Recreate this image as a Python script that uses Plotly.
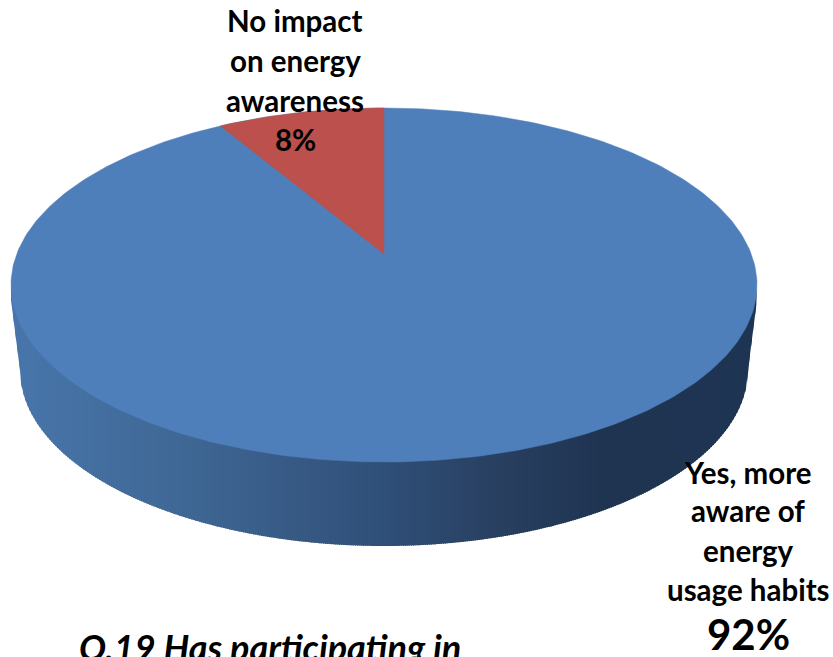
import numpy as np
import plotly.graph_objects as go

# Survey shares, in percent
categories = ["Yes, more aware of energy usage habits", "No impact on energy awareness"]
shares = [92, 8]
slice_colors = ["#4e7fba", "#bc504c"]

# Side wall shading, left to right along the disc
wall_stops = [0.0, 0.025, 0.12, 0.25, 0.374, 0.5, 0.655, 0.79, 1.0]
wall_colors = ["#4774a9", "#4774a9", "#436e9f", "#3e6693", "#375a85", "#2f4f78", "#283f60", "#1f3451", "#1d3452"]

label_lines_small = [("No impact", 20), ("on energy", 60), ("awareness", 100), ("8%", 139)]
label_lines_yes = [("Yes, more", 472), ("aware of", 510), ("energy", 550), ("usage habits", 589)]

# Disc geometry in page pixels
CX, CY, RX, RY = 384.0, 285.0, 373.0, 177.0
BASE_CY, BASE_RX, BASE_RY = 370.0, 364.0, 176.0
APEX_Y = 254.0
SKEW = 0.887
BAND = 2.0


def hex_rgb(c):
    return np.array([int(c[i:i + 2], 16) for i in (1, 3, 5)], dtype=float)


def wall_color(f):
    rgb = [np.interp(f, wall_stops, [hex_rgb(c)[k] for c in wall_colors]) for k in range(3)]
    return "rgb({:.0f},{:.0f},{:.0f})".format(*rgb)


def rim_point(theta):
    # Clockwise from the far edge of the disc, with the perspective skew applied
    t = np.arctan2(SKEW * np.sin(theta), np.cos(theta))
    return CX + RX * np.sin(t), CY - RY * np.cos(t)


def wall_top(x):
    return CY + RY * np.sqrt(np.clip(1 - ((x - CX) / RX) ** 2, 0, 1)) - 3


def wall_bottom(x):
    # Base ellipse, narrowing to a straight flank beyond its own width
    d = np.abs(x - CX)
    inside = BASE_CY + BASE_RY * np.sqrt(np.clip(1 - (d / BASE_RX) ** 2, 0, 1))
    flank = BASE_CY - (d - BASE_RX) / (RX - BASE_RX) * (BASE_CY - CY - 15)
    return np.where(d <= BASE_RX, inside, flank)


fig = go.Figure()

# Side wall: vertical bands painted left to right, each one covering the seam of the last
for left in np.arange(CX - RX, CX + RX, BAND):
    x = np.linspace(left, min(left + BAND + 1, CX + RX), 4)
    xs = np.concatenate([x, x[::-1], x[:1]])
    ys = np.concatenate([wall_top(x), wall_bottom(x)[::-1], wall_top(x)[:1]])
    col = wall_color((left - CX + RX) / (2 * RX))
    fig.add_trace(go.Scatter(x=xs, y=ys, mode="lines", fill="toself", fillcolor=col,
                             line=dict(width=0), hoverinfo="skip", showlegend=False))

# Top face, slices start at twelve o'clock and run anticlockwise from the small slice
small_end = 2 * np.pi * shares[1] / sum(shares)
full = np.linspace(0, 2 * np.pi, 361)
fig.add_trace(go.Scatter(x=CX + RX * np.sin(full), y=CY - RY * np.cos(full), mode="lines",
                         fill="toself", fillcolor=slice_colors[0],
                         line=dict(color=slice_colors[0], width=0.5),
                         name=categories[0], hoverinfo="name", showlegend=False))
arc = np.linspace(0, small_end, 40)
arc_x, arc_y = rim_point(-arc)
fig.add_trace(go.Scatter(x=np.concatenate([[CX], arc_x, [CX]]),
                         y=np.concatenate([[APEX_Y], arc_y, [APEX_Y]]),
                         mode="lines", fill="toself", fillcolor=slice_colors[1],
                         line=dict(color=slice_colors[1], width=0.5),
                         name=categories[1], hoverinfo="name", showlegend=False))


def label(text, x, y, size, **kw):
    fig.add_annotation(x=x, y=y, text=text, showarrow=False, xanchor="center", yanchor="middle",
                       font=dict(family="Lato, sans-serif", size=size, color="#000000", weight="bold", **kw))


for text, y in label_lines_small:
    label(text, 295, y, 29.5)
for text, y in label_lines_yes:
    label(text, 748, y, 29.5)
label("92%", 748, 634, 42)
label("Q.19 Has participating in", 270, 647, 36, style="italic")

fig.update_xaxes(range=[0, 833], visible=False, fixedrange=True)
fig.update_yaxes(range=[657, 0], visible=False, fixedrange=True)
fig.update_layout(width=833, height=657, margin=dict(l=0, r=0, t=0, b=0),
                  paper_bgcolor="#ffffff", plot_bgcolor="#ffffff", showlegend=False)
fig.write_html("out.html", config={"displayModeBar": False})
